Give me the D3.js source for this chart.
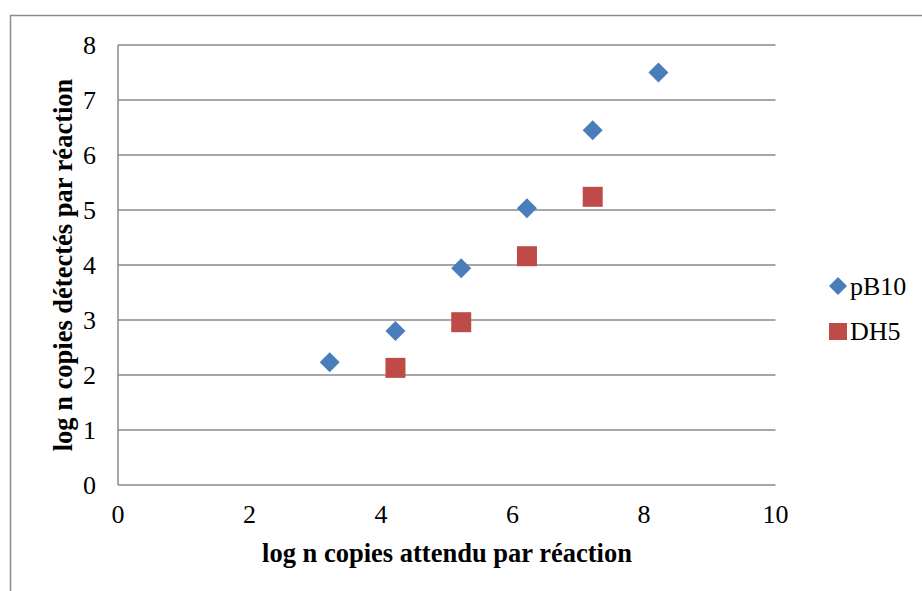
<!DOCTYPE html>
<html>
<head>
<meta charset="utf-8">
<script src="https://cdn.jsdelivr.net/npm/d3@7"></script>
<style>
  html, body { margin: 0; padding: 0; background: #fff; }
  text { font-family: "Liberation Serif", "DejaVu Serif", serif; fill: #000; }
</style>
</head>
<body>
<svg id="chart" width="922" height="591"></svg>
<script>
// data
const pB10X = [3.22, 4.22, 5.22, 6.22, 7.22, 8.22]
const pB10Y = [2.23, 2.8, 3.94, 5.03, 6.45, 7.5]
const dh5X = [4.22, 5.22, 6.22, 7.22]
const dh5Y = [2.13, 2.96, 4.16, 5.24]
const xTicks = [0, 2, 4, 6, 8, 10]
const yTicks = [0, 1, 2, 3, 4, 5, 6, 7, 8]

const FONT = "'Liberation Serif', 'Times New Roman', serif"
const svg = d3.select("#chart")

// outer chart border (runs off the right/bottom edge)
svg.append("rect")
  .attr("x", 10.5).attr("y", 15.5)
  .attr("width", 930).attr("height", 600)
  .attr("fill", "none")
  .attr("stroke", "#8c8c8c")
  .attr("stroke-width", 1.5)

const x = d3.scaleLinear().domain([0, 10]).range([118, 775.5])
const y = d3.scaleLinear().domain([0, 8]).range([485, 45])

// horizontal gridlines
svg.append("g")
  .selectAll("line")
  .data(yTicks)
  .join("line")
  .attr("x1", x(0)).attr("x2", x(10))
  .attr("y1", d => y(d)).attr("y2", d => y(d))
  .attr("stroke", "#8a8a8a")
  .attr("stroke-width", 1.5)

// vertical axis line
svg.append("line")
  .attr("x1", x(0)).attr("x2", x(0))
  .attr("y1", y(0)).attr("y2", y(8))
  .attr("stroke", "#8a8a8a")
  .attr("stroke-width", 1.5)

// y tick labels
svg.append("g")
  .selectAll("text")
  .data(yTicks)
  .join("text")
  .attr("x", 96)
  .attr("y", d => y(d) + 8.5)
  .attr("text-anchor", "end")
  .attr("font-family", FONT)
  .attr("font-size", 26)
  .text(d => d)

// x tick labels
svg.append("g")
  .selectAll("text")
  .data(xTicks)
  .join("text")
  .attr("x", d => x(d))
  .attr("y", 523)
  .attr("text-anchor", "middle")
  .attr("font-family", FONT)
  .attr("font-size", 26)
  .text(d => d)

// axis titles
svg.append("text")
  .attr("x", 447).attr("y", 562)
  .attr("text-anchor", "middle")
  .attr("font-family", FONT)
  .attr("font-size", 26.5)
  .attr("font-weight", "bold")
  .text("log n copies attendu par réaction")

svg.append("text")
  .attr("transform", "translate(72,265) rotate(-90)")
  .attr("text-anchor", "middle")
  .attr("font-family", FONT)
  .attr("font-size", 26.5)
  .attr("font-weight", "bold")
  .text("log n copies détectés par réaction")

// pB10 diamonds
svg.append("g")
  .selectAll("path")
  .data(pB10X.map((v, i) => [v, pB10Y[i]]))
  .join("path")
  .attr("d", "M0,-10L10,0L0,10L-10,0Z")
  .attr("transform", d => `translate(${x(d[0])},${y(d[1])})`)
  .attr("fill", "#4a7ebb")

// DH5 squares
svg.append("g")
  .selectAll("rect")
  .data(dh5X.map((v, i) => [v, dh5Y[i]]))
  .join("rect")
  .attr("x", d => x(d[0]) - 10)
  .attr("y", d => y(d[1]) - 10)
  .attr("width", 20).attr("height", 20)
  .attr("fill", "#be4b48")

// legend
const legend = svg.append("g")
legend.append("path")
  .attr("d", "M0,-9L9,0L0,9L-9,0Z")
  .attr("transform", "translate(838,286)")
  .attr("fill", "#4a7ebb")
legend.append("text")
  .attr("x", 850).attr("y", 295)
  .attr("font-family", FONT)
  .attr("font-size", 26)
  .text("pB10")
legend.append("rect")
  .attr("x", 829).attr("y", 323)
  .attr("width", 18).attr("height", 17)
  .attr("fill", "#be4b48")
legend.append("text")
  .attr("x", 850).attr("y", 340)
  .attr("font-family", FONT)
  .attr("font-size", 26)
  .text("DH5")
</script>
</body>
</html>
